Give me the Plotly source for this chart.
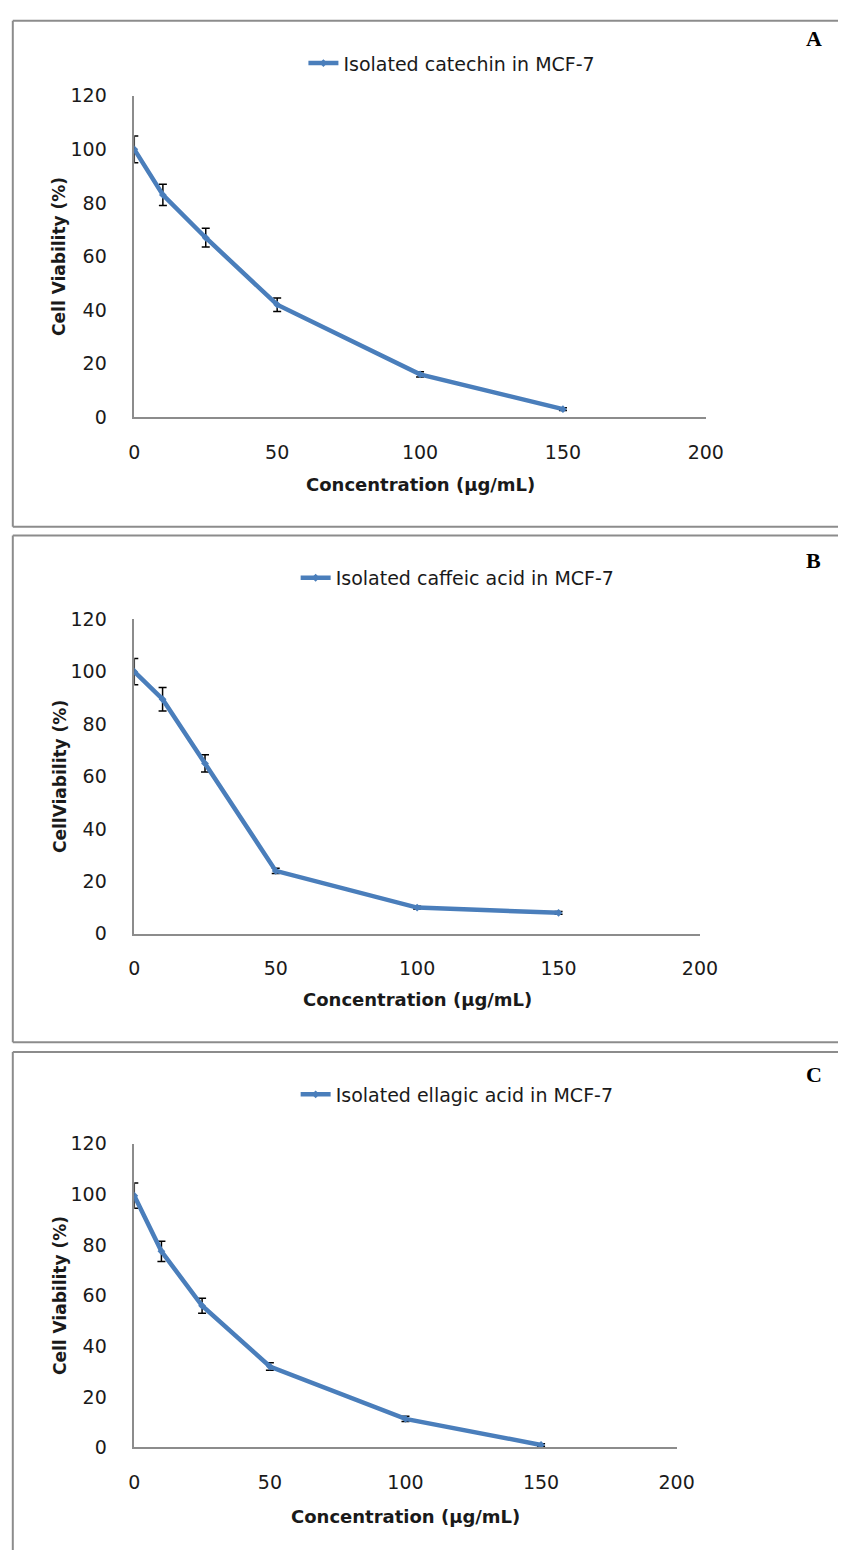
import plotly.graph_objects as go

W, H = 856, 1561

# ---- data ----
concentration = [0, 10, 25, 50, 100, 150]

catechin_viability = [100, 83, 67, 42, 16, 3]
catechin_err = [5, 4, 3.5, 2.5, 1, 0.5]

caffeic_viability = [100, 89.5, 65, 24, 10, 8]
caffeic_err = [5, 4.5, 3.3, 1, 0.5, 0.5]

ellagic_viability = [99.5, 77.5, 56, 32, 11.3, 1]
ellagic_err = [5, 4, 3, 1.5, 1, 0.5]

series_names = [
    "Isolated catechin in MCF-7",
    "Isolated caffeic acid in MCF-7",
    "Isolated ellagic acid in MCF-7",
]
panel_labels = ["A", "B", "C"]
y_titles = ["Cell Viability (%)", "CellViability (%)", "Cell Viability (%)"]
x_title = "Concentration (µg/mL)"
x_ticks = [0, 50, 100, 150, 200]
y_ticks = [0, 20, 40, 60, 80, 100, 120]

# ---- layout geometry (pixels) ----
def px(x):
    return x / W

def py(y):
    return 1 - y / H

panels = [
    dict(l=132, r=720, t=86, b=412, ft=10, fb=523, lx=306, ly=53, pl=28, xt=480),
    dict(l=132, r=714, t=617, b=936, ft=532, fb=1046, lx=298, ly=575, pl=557, xt=1003),
    dict(l=132, r=690, t=1149, b=1457, ft=1056, fb=None, lx=298, ly=1099, pl=1079, xt=1527),
]

LINE_COLOR = "#4A7EBB"
AXIS_COLOR = "#8C8C8C"
FRAME_COLOR = "#8C8C8C"
TXT = "#1a1a1a"
FONT = "DejaVu Sans"

fig = go.Figure()
data = [
    (catechin_viability, catechin_err),
    (caffeic_viability, caffeic_err),
    (ellagic_viability, ellagic_err),
]

shapes = []
annotations = []
layout_axes = {}

def frame_line(x0, y0, x1, y1):
    return dict(type="line", xref="paper", yref="paper",
                x0=px(x0), y0=py(y0), x1=px(x1), y1=py(y1),
                line=dict(color=FRAME_COLOR, width=2), layer="below")

for i, (p, (vals, errs)) in enumerate(zip(panels, data)):
    n = "" if i == 0 else str(i + 1)
    leg = "legend" if i == 0 else f"legend{i + 1}"
    fig.add_trace(go.Scatter(
        x=concentration, y=vals,
        mode="lines+markers",
        name=series_names[i],
        line=dict(color=LINE_COLOR, width=4.5),
        marker=dict(symbol="diamond", size=6, color=LINE_COLOR),
        error_y=dict(type="data", array=errs, visible=True,
                     color="black", thickness=1.5, width=4),
        xaxis=f"x{n}", yaxis=f"y{n}",
        legend=leg,
        showlegend=True,
        hoverinfo="skip",
    ))
    layout_axes[f"xaxis{n}"] = dict(
        domain=[px(p["l"]), px(p["r"])], anchor=f"y{n}",
        range=[0, 200], tickvals=x_ticks, showgrid=False, zeroline=False,
        showline=True, linecolor=AXIS_COLOR, linewidth=1.5, ticks="",
        ticklabelstandoff=17,
        tickfont=dict(family=FONT, size=19, color=TXT),
        fixedrange=True,
    )
    layout_axes[f"yaxis{n}"] = dict(
        domain=[py(p["b"]), py(p["t"])], anchor=f"x{n}",
        range=[0, 120], tickvals=y_ticks, showgrid=False, zeroline=False,
        showline=True, linecolor=AXIS_COLOR, linewidth=1.5, ticks="",
        ticklabelstandoff=22,
        tickfont=dict(family=FONT, size=19, color=TXT),
        fixedrange=True,
    )
    layout_axes[leg] = dict(
        x=px(p["lx"]), y=py(p["ly"]), xanchor="left", yanchor="middle",
        xref="paper", yref="paper",
        font=dict(family=FONT, size=19, color=TXT),
        bgcolor="rgba(0,0,0,0)", itemwidth=30,
    )
    # frame around each panel (right side lies beyond the picture)
    shapes.append(frame_line(7, p["ft"], W, p["ft"]))
    shapes.append(frame_line(7, p["ft"], 7, p["fb"] if p["fb"] else H))
    if p["fb"]:
        shapes.append(frame_line(7, p["fb"], W, p["fb"]))
    annotations.append(dict(text=panel_labels[i], xref="paper", yref="paper",
                            x=px(831), y=py(p["pl"]), xanchor="center", yanchor="middle",
                            showarrow=False,
                            font=dict(family="Liberation Serif", size=22, color="black",
                                      weight="bold")))
    annotations.append(dict(text=x_title, xref="paper", yref="paper",
                            x=px((p["l"] + p["r"]) / 2), y=py(p["xt"]),
                            xanchor="center", yanchor="middle", showarrow=False,
                            font=dict(family=FONT, size=18, color=TXT, weight="bold")))
    annotations.append(dict(text=y_titles[i], xref="paper", yref="paper",
                            x=px(55), y=py((p["t"] + p["b"]) / 2), textangle=-90,
                            xanchor="center", yanchor="middle", showarrow=False,
                            font=dict(family=FONT, size=17, color=TXT, weight="bold")))

fig.update_layout(
    width=W, height=H,
    margin=dict(l=0, r=0, t=0, b=0),
    paper_bgcolor="white", plot_bgcolor="white",
    shapes=shapes, annotations=annotations,
    hovermode=False,
    **layout_axes,
)

fig.write_html(
    "out.html",
    config={"displayModeBar": False},
    post_script=(
        "document.body.style.margin='0';"
        "document.body.style.overflow='hidden';"
        "document.documentElement.style.overflow='hidden';"
    ),
)
